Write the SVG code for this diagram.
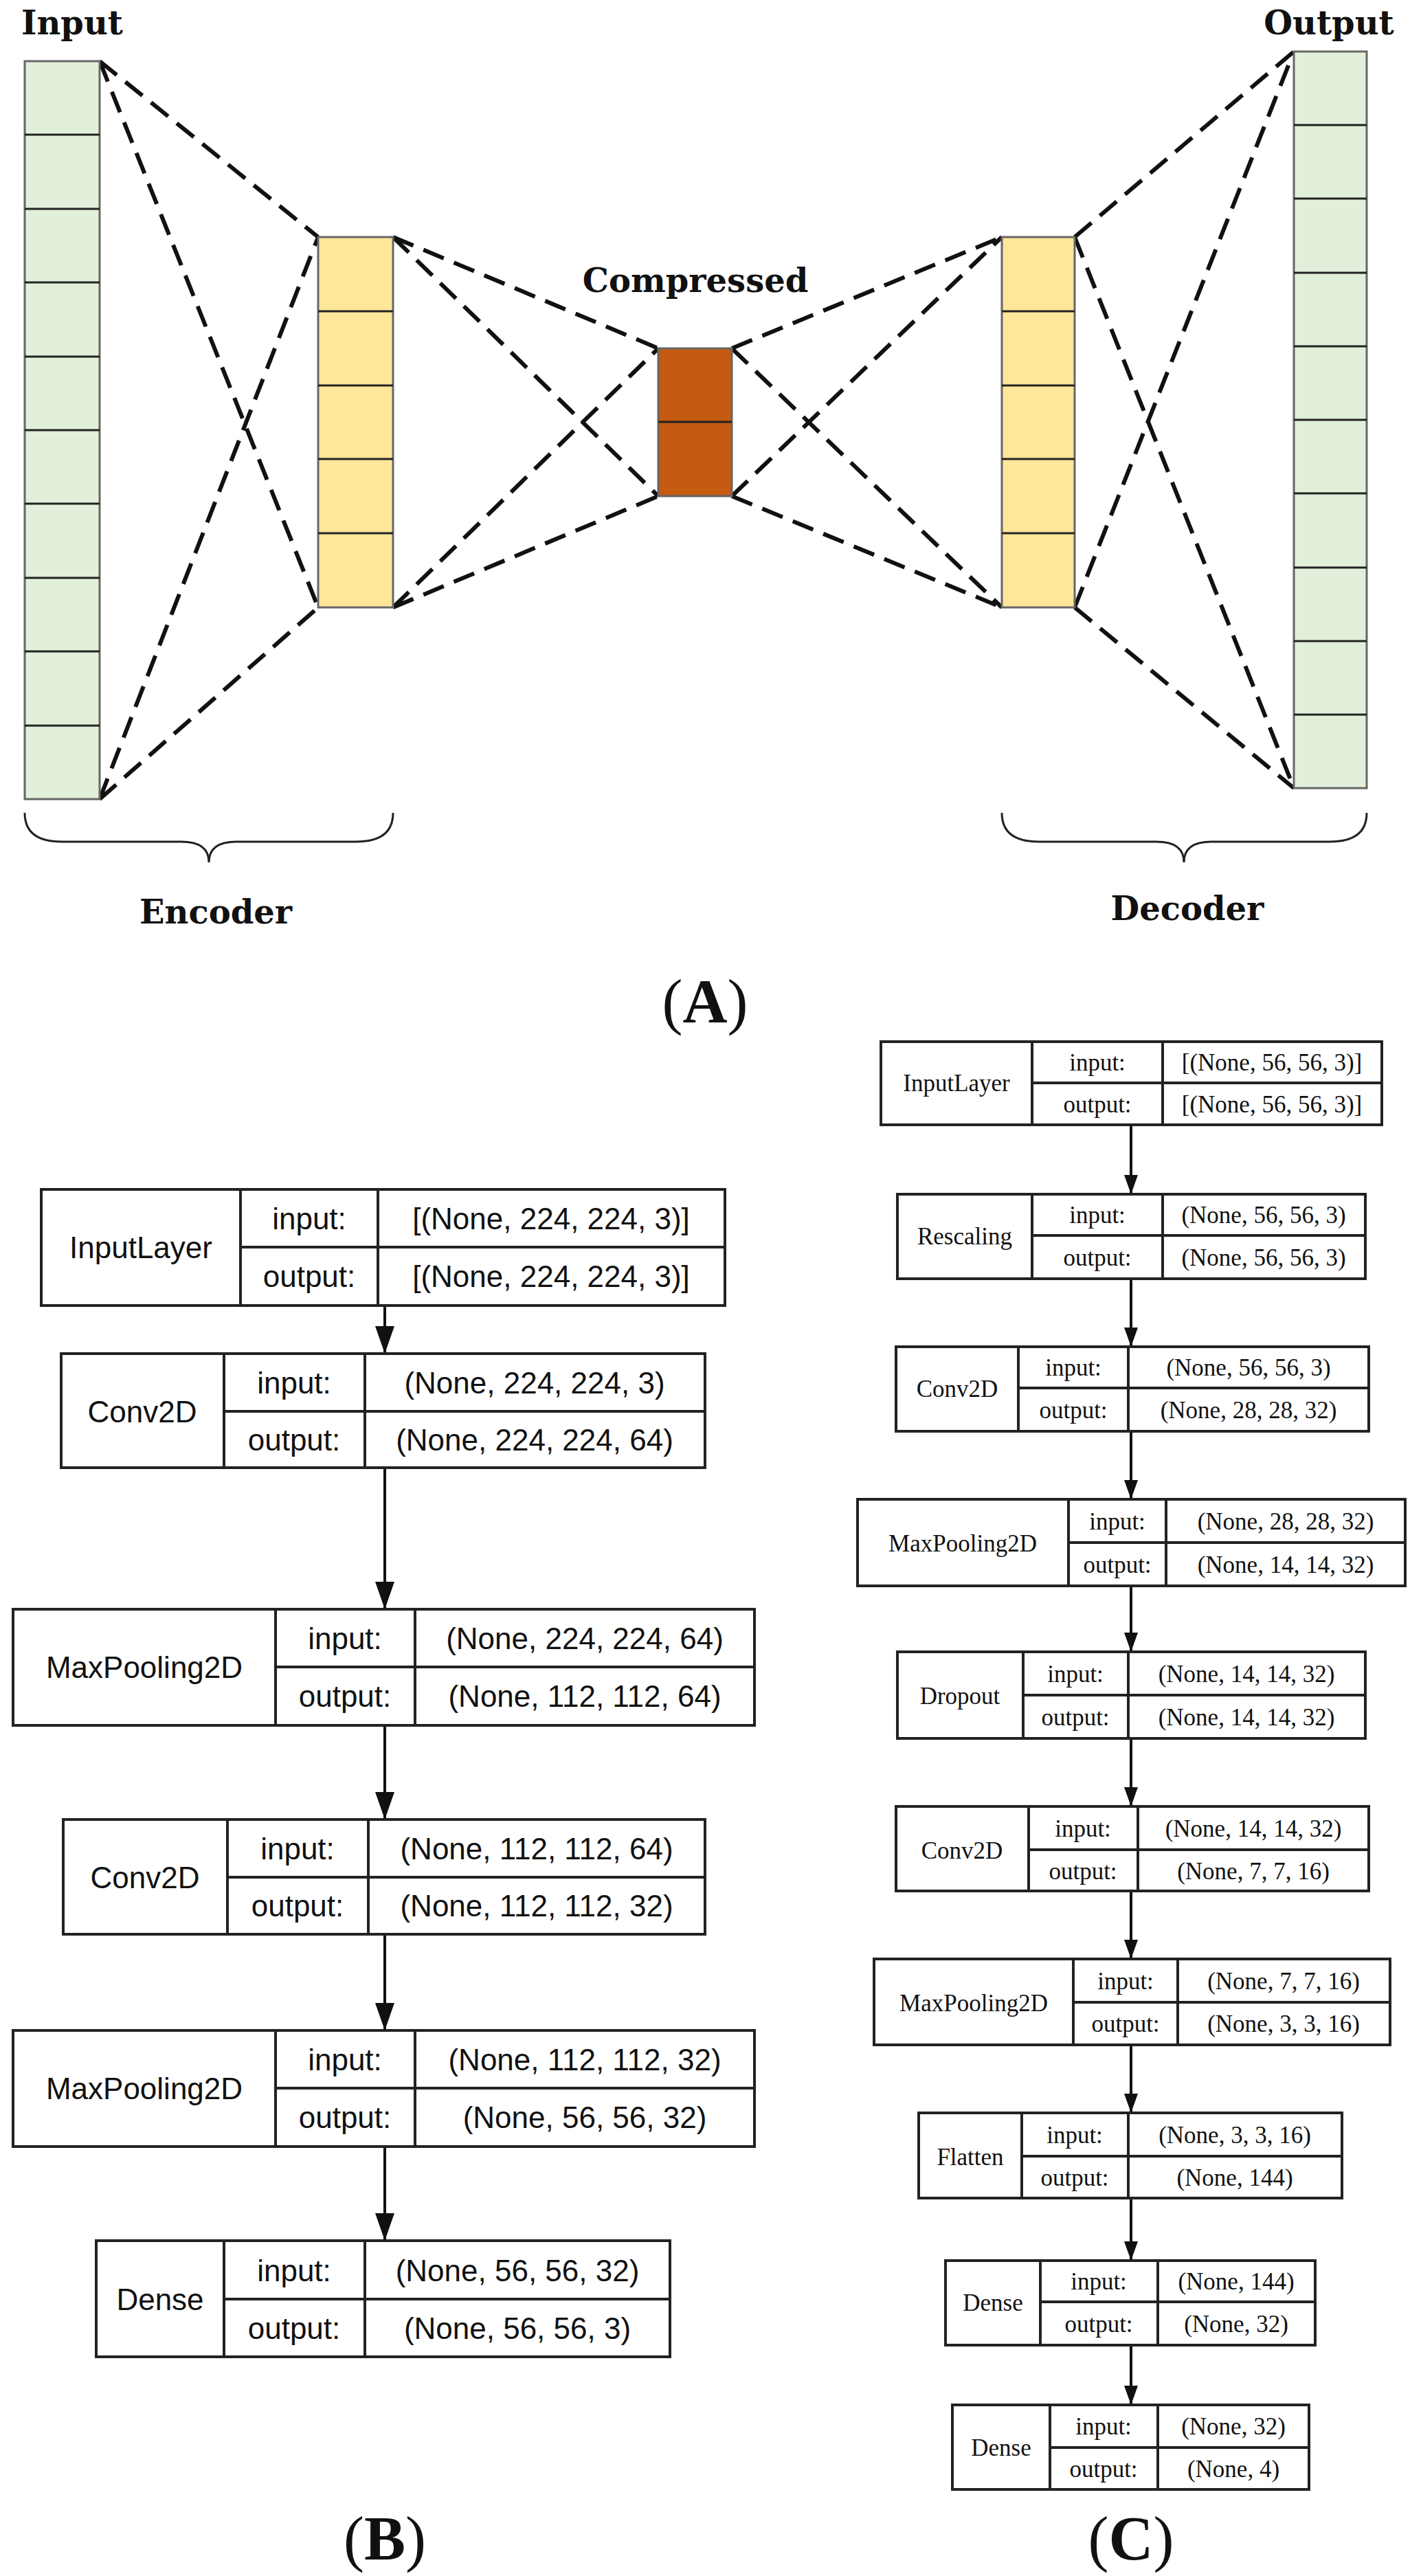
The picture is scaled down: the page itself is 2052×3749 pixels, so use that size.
<svg xmlns="http://www.w3.org/2000/svg" width="2052" height="3749" viewBox="0 0 2052 3749">
<defs>
<style>
.g{fill:#e2efda;stroke:#666;stroke-width:3}
.y{fill:#ffe699;stroke:#666;stroke-width:3}
.c{fill:#c55a11;stroke:#666;stroke-width:3}
.cl{stroke:#222;stroke-width:3}
.d{stroke:#111;stroke-width:6;stroke-dasharray:32 16;fill:none}
.br{fill:none;stroke:#222;stroke-width:3}
.lab{font-family:"DejaVu Serif",serif;font-weight:bold;font-size:48px;fill:#111;text-anchor:middle}
.bx{fill:#fff;stroke:#222;stroke-width:4}
.bl{stroke:#222;stroke-width:4}
.tb{font-family:"Liberation Sans",sans-serif;font-size:44px;fill:#111;text-anchor:middle}
.tc{font-family:"Liberation Serif",serif;font-size:35px;fill:#111;text-anchor:middle}
.ar{stroke:#111;stroke-width:4;fill:none}
.cap{font-family:"Liberation Serif",serif;font-size:90px;fill:#111;text-anchor:middle}
</style>
<marker id="ahb" viewBox="0 0 10 10" refX="10" refY="5" markerWidth="40" markerHeight="28" markerUnits="userSpaceOnUse" orient="auto" preserveAspectRatio="none">
<path d="M0,0 L10,5 L0,10 z" fill="#111"/>
</marker>
<marker id="ahc" viewBox="0 0 10 10" refX="10" refY="5" markerWidth="28" markerHeight="20" markerUnits="userSpaceOnUse" orient="auto" preserveAspectRatio="none">
<path d="M0,0 L10,5 L0,10 z" fill="#111"/>
</marker>
</defs>
<rect width="2052" height="3749" fill="#fff"/>

<g id="connectors-A">
<path class="d" d="M145,89 L463,345 M145,89 L463,884 M145,1163 L463,345 M145,1163 L463,884"/>
<path class="d" d="M572,345 L958,507 M572,345 L958,722 M572,884 L958,507 M572,884 L958,722"/>
<path class="d" d="M1065,507 L1458,345 M1065,507 L1458,884 M1065,722 L1458,345 M1065,722 L1458,884"/>
<path class="d" d="M1564,345 L1883,75 M1564,345 L1883,1147 M1564,884 L1883,75 M1564,884 L1883,1147"/>
</g>

<g id="input-layer">
<rect class="g" x="36" y="89" width="109" height="1074"/>
<path class="cl" d="M36,196H145M36,304H145M36,411H145M36,519H145M36,626H145M36,733H145M36,841H145M36,948H145M36,1056H145"/>
<text class="lab" x="105" y="50">Input</text>
</g>
<g id="encoder-hidden">
<rect class="y" x="463" y="345" width="109" height="539"/>
<path class="cl" d="M463,453H572M463,561H572M463,668H572M463,776H572"/>
</g>
<g id="compressed">
<rect class="c" x="958" y="507" width="107" height="215"/>
<path class="cl" d="M958,614H1065"/>
<text class="lab" x="1012" y="425">Compressed</text>
</g>
<g id="decoder-hidden">
<rect class="y" x="1458" y="345" width="106" height="539"/>
<path class="cl" d="M1458,453H1564M1458,561H1564M1458,668H1564M1458,776H1564"/>
</g>
<g id="output-layer">
<rect class="g" x="1883" y="75" width="106" height="1072"/>
<path class="cl" d="M1883,182H1989M1883,289H1989M1883,397H1989M1883,504H1989M1883,611H1989M1883,718H1989M1883,826H1989M1883,933H1989M1883,1040H1989"/>
<text class="lab" x="1934" y="50">Output</text>
</g>
<g id="encoder-brace">
<path class="br" d="M36,1183 Q36,1225 90,1225 L264,1225 Q304,1225 304,1255 Q304,1225 344,1225 L518,1225 Q572,1225 572,1183"/>
<text class="lab" x="314" y="1344">Encoder</text>
</g>
<g id="decoder-brace">
<path class="br" d="M1458,1183 Q1458,1225 1512,1225 L1683,1225 Q1723,1225 1723,1255 Q1723,1225 1763,1225 L1935,1225 Q1989,1225 1989,1183"/>
<text class="lab" x="1728" y="1339">Decoder</text>
</g>
<text class="cap" x="1026" y="1488">(<tspan font-weight="bold">A</tspan>)</text>

<g id="connectors-B">
<path class="ar" marker-end="url(#ahb)" d="M560,1900V1970"/>
<path class="ar" marker-end="url(#ahb)" d="M560,2136V2342"/>
<path class="ar" marker-end="url(#ahb)" d="M560,2511V2648"/>
<path class="ar" marker-end="url(#ahb)" d="M560,2815V2955"/>
<path class="ar" marker-end="url(#ahb)" d="M560,3124V3261"/>
</g>
<g id="B-InputLayer">
<rect class="bx" x="60" y="1731" width="995" height="169"/>
<path class="bl" d="M350,1731V1900M550,1731V1900M350,1815H1055"/>
<text class="tb" x="205" y="1831">InputLayer</text>
<text class="tb" x="450" y="1789">input:</text><text class="tb" x="450" y="1873">output:</text>
<text class="tb" x="802" y="1789">[(None, 224, 224, 3)]</text><text class="tb" x="802" y="1873">[(None, 224, 224, 3)]</text>
</g>
<g id="B-Conv2D-1">
<rect class="bx" x="89" y="1970" width="937" height="166"/>
<path class="bl" d="M326,1970V2136M531,1970V2136M326,2054H1026"/>
<text class="tb" x="207" y="2070">Conv2D</text>
<text class="tb" x="428" y="2028">input:</text><text class="tb" x="428" y="2111">output:</text>
<text class="tb" x="778" y="2028">(None, 224, 224, 3)</text><text class="tb" x="778" y="2111">(None, 224, 224, 64)</text>
</g>
<g id="B-MaxPooling2D-1">
<rect class="bx" x="19" y="2342" width="1079" height="169"/>
<path class="bl" d="M401,2342V2511M604,2342V2511M401,2426H1098"/>
<text class="tb" x="210" y="2442">MaxPooling2D</text>
<text class="tb" x="502" y="2400">input:</text><text class="tb" x="502" y="2484">output:</text>
<text class="tb" x="851" y="2400">(None, 224, 224, 64)</text><text class="tb" x="851" y="2484">(None, 112, 112, 64)</text>
</g>
<g id="B-Conv2D-2">
<rect class="bx" x="92" y="2648" width="934" height="167"/>
<path class="bl" d="M331,2648V2815M536,2648V2815M331,2732H1026"/>
<text class="tb" x="211" y="2748">Conv2D</text>
<text class="tb" x="433" y="2706">input:</text><text class="tb" x="433" y="2789">output:</text>
<text class="tb" x="781" y="2706">(None, 112, 112, 64)</text><text class="tb" x="781" y="2789">(None, 112, 112, 32)</text>
</g>
<g id="B-MaxPooling2D-2">
<rect class="bx" x="19" y="2955" width="1079" height="169"/>
<path class="bl" d="M401,2955V3124M604,2955V3124M401,3039H1098"/>
<text class="tb" x="210" y="3055">MaxPooling2D</text>
<text class="tb" x="502" y="3013">input:</text><text class="tb" x="502" y="3097">output:</text>
<text class="tb" x="851" y="3013">(None, 112, 112, 32)</text><text class="tb" x="851" y="3097">(None, 56, 56, 32)</text>
</g>
<g id="B-Dense">
<rect class="bx" x="140" y="3261" width="835" height="169"/>
<path class="bl" d="M326,3261V3430M531,3261V3430M326,3346H975"/>
<text class="tb" x="233" y="3362">Dense</text>
<text class="tb" x="428" y="3320">input:</text><text class="tb" x="428" y="3404">output:</text>
<text class="tb" x="753" y="3320">(None, 56, 56, 32)</text><text class="tb" x="753" y="3404">(None, 56, 56, 3)</text>
</g>
<text class="cap" x="560" y="3725">(<tspan font-weight="bold">B</tspan>)</text>

<g id="connectors-C">
<path class="ar" marker-end="url(#ahc)" d="M1646,1637V1738"/>
<path class="ar" marker-end="url(#ahc)" d="M1646,1861V1960"/>
<path class="ar" marker-end="url(#ahc)" d="M1646,2083V2182"/>
<path class="ar" marker-end="url(#ahc)" d="M1646,2308V2404"/>
<path class="ar" marker-end="url(#ahc)" d="M1646,2530V2629"/>
<path class="ar" marker-end="url(#ahc)" d="M1646,2752V2851"/>
<path class="ar" marker-end="url(#ahc)" d="M1646,2976V3075"/>
<path class="ar" marker-end="url(#ahc)" d="M1646,3199V3290"/>
<path class="ar" marker-end="url(#ahc)" d="M1646,3413V3500"/>
</g>
<g id="C-InputLayer">
<rect class="bx" x="1282" y="1516" width="729" height="121"/>
<path class="bl" d="M1502,1516V1637M1692,1516V1637M1502,1576H2011"/>
<text class="tc" x="1392" y="1588">InputLayer</text>
<text class="tc" x="1597" y="1558">input:</text><text class="tc" x="1597" y="1619">output:</text>
<text class="tc" x="1851" y="1558">[(None, 56, 56, 3)]</text><text class="tc" x="1851" y="1619">[(None, 56, 56, 3)]</text>
</g>
<g id="C-Rescaling">
<rect class="bx" x="1306" y="1738" width="681" height="123"/>
<path class="bl" d="M1502,1738V1861M1692,1738V1861M1502,1798H1987"/>
<text class="tc" x="1404" y="1811">Rescaling</text>
<text class="tc" x="1597" y="1780">input:</text><text class="tc" x="1597" y="1842">output:</text>
<text class="tc" x="1839" y="1780">(None, 56, 56, 3)</text><text class="tc" x="1839" y="1842">(None, 56, 56, 3)</text>
</g>
<g id="C-Conv2D-1">
<rect class="bx" x="1304" y="1960" width="688" height="123"/>
<path class="bl" d="M1482,1960V2083M1642,1960V2083M1482,2020H1992"/>
<text class="tc" x="1393" y="2033">Conv2D</text>
<text class="tc" x="1562" y="2002">input:</text><text class="tc" x="1562" y="2064">output:</text>
<text class="tc" x="1817" y="2002">(None, 56, 56, 3)</text><text class="tc" x="1817" y="2064">(None, 28, 28, 32)</text>
</g>
<g id="C-MaxPooling2D-1">
<rect class="bx" x="1248" y="2182" width="797" height="126"/>
<path class="bl" d="M1555,2182V2308M1697,2182V2308M1555,2245H2045"/>
<text class="tc" x="1401" y="2258">MaxPooling2D</text>
<text class="tc" x="1626" y="2226">input:</text><text class="tc" x="1626" y="2289">output:</text>
<text class="tc" x="1871" y="2226">(None, 28, 28, 32)</text><text class="tc" x="1871" y="2289">(None, 14, 14, 32)</text>
</g>
<g id="C-Dropout">
<rect class="bx" x="1306" y="2404" width="681" height="126"/>
<path class="bl" d="M1489,2404V2530M1642,2404V2530M1489,2467H1987"/>
<text class="tc" x="1397" y="2480">Dropout</text>
<text class="tc" x="1565" y="2448">input:</text><text class="tc" x="1565" y="2511">output:</text>
<text class="tc" x="1814" y="2448">(None, 14, 14, 32)</text><text class="tc" x="1814" y="2511">(None, 14, 14, 32)</text>
</g>
<g id="C-Conv2D-2">
<rect class="bx" x="1304" y="2629" width="688" height="123"/>
<path class="bl" d="M1497,2629V2752M1656,2629V2752M1497,2692H1992"/>
<text class="tc" x="1400" y="2705">Conv2D</text>
<text class="tc" x="1576" y="2673">input:</text><text class="tc" x="1576" y="2735">output:</text>
<text class="tc" x="1824" y="2673">(None, 14, 14, 32)</text><text class="tc" x="1824" y="2735">(None, 7, 7, 16)</text>
</g>
<g id="C-MaxPooling2D-2">
<rect class="bx" x="1272" y="2851" width="751" height="125"/>
<path class="bl" d="M1562,2851V2976M1714,2851V2976M1562,2914H2023"/>
<text class="tc" x="1417" y="2927">MaxPooling2D</text>
<text class="tc" x="1638" y="2895">input:</text><text class="tc" x="1638" y="2957">output:</text>
<text class="tc" x="1868" y="2895">(None, 7, 7, 16)</text><text class="tc" x="1868" y="2957">(None, 3, 3, 16)</text>
</g>
<g id="C-Flatten">
<rect class="bx" x="1337" y="3075" width="616" height="124"/>
<path class="bl" d="M1487,3075V3199M1642,3075V3199M1487,3138H1953"/>
<text class="tc" x="1412" y="3151">Flatten</text>
<text class="tc" x="1564" y="3119">input:</text><text class="tc" x="1564" y="3181">output:</text>
<text class="tc" x="1797" y="3119">(None, 3, 3, 16)</text><text class="tc" x="1797" y="3181">(None, 144)</text>
</g>
<g id="C-Dense-1">
<rect class="bx" x="1376" y="3290" width="538" height="123"/>
<path class="bl" d="M1514,3290V3413M1685,3290V3413M1514,3350H1914"/>
<text class="tc" x="1445" y="3363">Dense</text>
<text class="tc" x="1599" y="3332">input:</text><text class="tc" x="1599" y="3394">output:</text>
<text class="tc" x="1799" y="3332">(None, 144)</text><text class="tc" x="1799" y="3394">(None, 32)</text>
</g>
<g id="C-Dense-2">
<rect class="bx" x="1386" y="3500" width="519" height="123"/>
<path class="bl" d="M1528,3500V3623M1685,3500V3623M1528,3562H1905"/>
<text class="tc" x="1457" y="3574">Dense</text>
<text class="tc" x="1606" y="3543">input:</text><text class="tc" x="1606" y="3605">output:</text>
<text class="tc" x="1795" y="3543">(None, 32)</text><text class="tc" x="1795" y="3605">(None, 4)</text>
</g>
<text class="cap" x="1646" y="3725">(<tspan font-weight="bold">C</tspan>)</text>
</svg>
